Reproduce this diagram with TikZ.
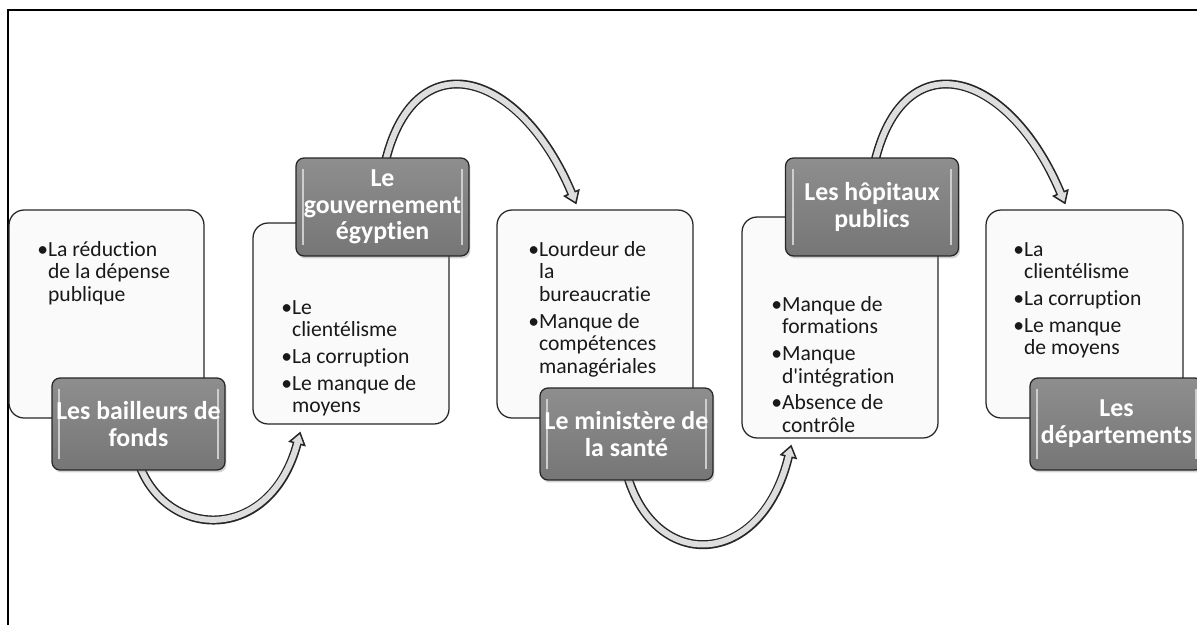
\documentclass[tikz,border=0pt]{standalone}
\usepackage{fontspec}
\setmainfont{Carlito}[Ligatures={TeX,CommonOff}]
\usetikzlibrary{arrows.meta,calc,shadows}
\pgfdeclarelayer{fond}
\pgfdeclarelayer{milieu}
\pgfsetlayers{fond,milieu,main}
\definecolor{grishaut}{RGB}{142,142,142}
\definecolor{grisbas}{RGB}{118,118,118}
\definecolor{grisclair}{RGB}{222,222,222}
\definecolor{fondclair}{RGB}{250,250,250}
\definecolor{reflet}{RGB}{205,205,205}
\tikzset{
	cadre/.style={draw=black, line width=0.045cm},
	clair/.style={draw=black!85, line width=0.025cm, fill=fondclair, rounded corners=0.3cm,
		minimum width=3.92cm, minimum height=4.16cm, inner sep=0pt},
	fonce/.style={draw=black!85, line width=0.025cm, top color=grishaut, bottom color=grisbas,
		rounded corners=0.16cm, minimum width=3.46cm, minimum height=1.84cm, inner sep=0pt,
		text=white, align=center, font=\fontsize{14.7}{15.2}\selectfont\bfseries,
		drop shadow={opacity=0.35, shadow xshift=0.03cm, shadow yshift=-0.05cm},
		path picture={
			\draw[reflet, line width=0.04cm] ([xshift=0.14cm,yshift=-0.22cm]path picture bounding box.north west) -- ([xshift=0.14cm,yshift=0.22cm]path picture bounding box.south west);
			\draw[reflet, line width=0.04cm] ([xshift=-0.14cm,yshift=-0.22cm]path picture bounding box.north east) -- ([xshift=-0.14cm,yshift=0.22cm]path picture bounding box.south east);
		}},
	liste/.style={anchor=north west, inner sep=0pt, font=\fontsize{12.3}{12.9}\selectfont, text=black!90},
	fleche/.style={draw=grisclair, line width=0.12cm, shorten >=0.22cm,
		preaction={draw=black!85, line width=0.18cm, shorten >=0pt,
			-{Triangle[length=0.26cm, width=0.36cm, fill=grisclair, line width=0.03cm]}}}
}
\begin{document}
\begin{tikzpicture}[x=0.02cm, y=-0.02cm]
	\useasboundingbox (0,0) rectangle (1197,625);

	% boites claires
	\begin{pgfonlayer}{fond}
	\draw[cadre] (8,640) -- (8,10) -- (1210,10);
	\node[clair, minimum width=3.9cm] (clair1) at (106.5,314) {};
	\node[clair, minimum height=4.02cm] (clair2) at (351,323.5) {};
	\node[clair] (clair3) at (595,314) {};
	\node[clair, minimum height=4.42cm] (clair4) at (840,327.5) {};
	\node[clair, minimum width=3.94cm] (clair5) at (1084.5,314) {};

	\node[liste] (texte1) at (37,240) {\begin{tabular}{@{}l@{}l@{}}
		•&La réduction\\&de la dépense\\&publique\end{tabular}};
	\node[liste] (texte2) at (281,298) {\begin{tabular}{@{}l@{}l@{}}
		•&Le\\&clientélisme\\[2.3pt]•&La corruption\\[2.3pt]•&Le manque de\\&moyens\end{tabular}};
	\node[liste] (texte3) at (528,240) {\begin{tabular}{@{}l@{}l@{}}
		•&Lourdeur de\\&la\\&bureaucratie\\[2.3pt]•&Manque de\\&compétences\\&managériales\end{tabular}};
	\node[liste] (texte4) at (771,295) {\begin{tabular}{@{}l@{}l@{}}
		•&Manque de\\&formations\\[2.3pt]•&Manque\\&d\textquotesingle intégration\\[2.3pt]•&Absence de\\&contrôle\end{tabular}};
	\node[liste] (texte5) at (1013,240) {\begin{tabular}{@{}l@{}l@{}}
		•&La\\&clientélisme\\[2.3pt]•&La corruption\\[2.3pt]•&Le manque\\&de moyens\end{tabular}};
	\end{pgfonlayer}

	% boites foncees
	\node[fonce] (fonce1) at (138.5,424) {Les bailleurs de\\fonds};
	\node[fonce, minimum height=1.96cm] (fonce2) at (382.5,207) {Le\\gouvernement\\égyptien};
	\node[fonce] (fonce3) at (626.5,434) {Le ministère de\\la santé};
	\node[fonce, minimum height=1.96cm] (fonce4) at (872,207) {Les hôpitaux\\publics};
	\node[fonce] (fonce5) at (1116.5,424) {Les\\départements};

	% fleches
	\begin{pgfonlayer}{milieu}
	\draw[fleche] ($(fonce1.south)+(0,-8)$) .. controls +(27,78) and +(-30,112) .. ($(clair2.south west)+(48,7)$);
	\draw[fleche] ($(fonce2.north)+(2,8)$) .. controls +(28,-126) and +(-57,-136) .. ($(clair3.north west)+(80,-5)$);
	\draw[fleche] ($(fonce3.south)+(0,-8)$) .. controls +(27,100) and +(-30,125) .. ($(clair4.south west)+(50,6)$);
	\draw[fleche] ($(fonce4.north)+(2,8)$) .. controls +(28,-126) and +(-57,-136) .. ($(clair5.north west)+(80,-5)$);
	\end{pgfonlayer}
\end{tikzpicture}
\end{document}
